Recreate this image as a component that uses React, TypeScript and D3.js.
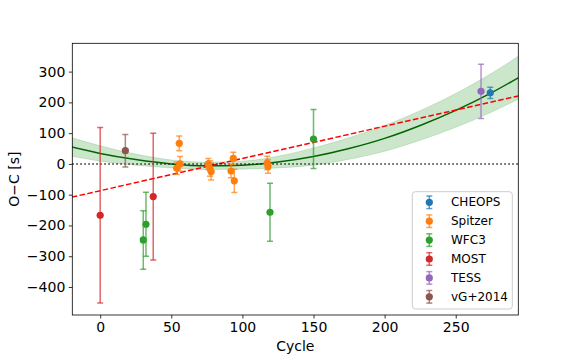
import * as d3 from "d3";
import { useRef, useEffect } from "react";

// transit timing residuals
const cheops = [{ cycle: 274.3, oc: 231, err: 18 }];
const spitzer = [
  { cycle: 55.6, oc: 67, err: 24 },
  { cycle: 53.8, oc: -14, err: 20 },
  { cycle: 56.2, oc: 0, err: 24 },
  { cycle: 76.0, oc: 0, err: 18 },
  { cycle: 77.2, oc: -15, err: 25 },
  { cycle: 78.0, oc: -25, err: 27 },
  { cycle: 93.6, oc: 18, err: 20 },
  { cycle: 92.0, oc: -23, err: 22 },
  { cycle: 94.3, oc: -55, err: 38 },
  { cycle: 117.5, oc: 3, err: 22 },
  { cycle: 118.0, oc: -8, err: 22 },
];
const wfc3 = [
  { cycle: 30.3, oc: -247, err: 95 },
  { cycle: 32.2, oc: -196, err: 104 },
  { cycle: 119.4, oc: -157, err: 94 },
  { cycle: 150.0, oc: 81, err: 96 },
];
const most = [
  { cycle: 0, oc: -167, err: 285 },
  { cycle: 37.3, oc: -106, err: 206 },
];
const tess = [{ cycle: 267.8, oc: 236, err: 88 }];
const vg2014 = [{ cycle: 17.7, oc: 43, err: 53 }];

const seriesNames = ["CHEOPS", "Spitzer", "WFC3", "MOST", "TESS", "vG+2014"];
const seriesColors = ["#1f77b4", "#ff7f0e", "#2ca02c", "#d62728", "#9467bd", "#8c564b"];
const seriesData = [cheops, spitzer, wfc3, most, tess, vg2014];

// quadratic model and its band
const modelCycle = [-20, 0, 25, 50, 75, 100, 125, 150, 175, 200, 225, 250, 275, 294];
const modelOC = [55, 34, 14, 0, -6, -4, 6, 24, 50, 83, 125, 174, 231, 280];
const modelLow = [25, 9, -4, -13, -18, -17, -13, -4, 15, 41, 77, 119, 168, 210];
const modelHigh = [85, 59, 32, 13, 6, 9, 25, 52, 85, 125, 173, 229, 294, 350];

// linear ephemeris
const linearCycle = [-20, 294];
const linearOC = [-108, 221];

const xTicks = [0, 50, 100, 150, 200, 250];
const yTicks = [-400, -300, -200, -100, 0, 100, 200, 300];

const font = "DejaVu Sans, sans-serif";

export default function App() {
  const bottomAxis = useRef<SVGGElement>(null),
    leftAxis = useRef<SVGGElement>(null);

  const width = 576,
    height = 360,
    margin = { left: 72.3, top: 43.3, right: 57.7, bottom: 45 };
  const w = width - margin.left - margin.right,
    h = height - margin.top - margin.bottom;

  const xScale = d3.scaleLinear().domain([-19.6, 294]).range([0, w]);
  const yScale = d3.scaleLinear().domain([-491, 392]).range([h, 0]);

  const modelPts = modelCycle.map((c, i) => ({ c, y: modelOC[i], lo: modelLow[i], hi: modelHigh[i] }));
  const modelLine = d3
    .line<any>()
    .x((d) => xScale(d.c))
    .y((d) => yScale(d.y))
    .curve(d3.curveMonotoneX);
  const band = d3
    .area<any>()
    .x((d) => xScale(d.c))
    .y0((d) => yScale(d.lo))
    .y1((d) => yScale(d.hi))
    .curve(d3.curveMonotoneX);
  const linPts = linearCycle.map((c, i) => ({ c, y: linearOC[i] }));
  const linLine = d3
    .line<any>()
    .x((d) => xScale(d.c))
    .y((d) => yScale(d.y));

  useEffect(() => {
    const xAxis = d3.axisBottom(xScale).tickValues(xTicks).tickSize(3.5).tickPadding(3.5);
    const yAxis = d3.axisLeft(yScale).tickValues(yTicks).tickSize(3.5).tickPadding(3.5);
    const styleAxis = (g: any) => {
      g.select(".domain").remove();
      g.selectAll("text").attr("font-size", 14).attr("font-family", font).attr("fill", "#000");
      g.selectAll("line").attr("stroke", "#000").attr("stroke-width", 0.8);
    };
    d3.select(bottomAxis.current).call(xAxis).call(styleAxis);
    d3.select(leftAxis.current).call(yAxis).call(styleAxis);
  }, []);

  const cap = 3;

  return (
    <svg width={width} height={height} style={{ position: "absolute", left: 0, top: 0, background: "#fff" }}>
      <defs>
        <clipPath id="plot">
          <rect x={0} y={0} width={w} height={h} />
        </clipPath>
      </defs>
      <g transform={`translate(${margin.left}, ${margin.top})`}>
        <g clipPath="url(#plot)">
          <path d={band(modelPts) || ""} fill="green" fillOpacity={0.2} stroke="green" strokeOpacity={0.15} />
          <path d={modelLine(modelPts) || ""} fill="none" stroke="darkgreen" strokeWidth={1.5} />
          <path d={linLine(linPts) || ""} fill="none" stroke="red" strokeWidth={1.5} strokeDasharray="5.55 2.4" />
          <line x1={0} x2={w} y1={yScale(0)} y2={yScale(0)} stroke="#222" strokeWidth={1.5} strokeDasharray="1.5 2.5" />
          {seriesData.map((pts, i) => (
            <g key={i}>
              {pts.map((p, j) => {
                const cx = xScale(p.cycle),
                  yt = yScale(p.oc + p.err),
                  yb = yScale(p.oc - p.err);
                return (
                  <g key={j}>
                    <g stroke={seriesColors[i]} strokeOpacity={0.7} strokeWidth={1.5}>
                      <line x1={cx} x2={cx} y1={yt} y2={yb} />
                      <line x1={cx - cap} x2={cx + cap} y1={yt} y2={yt} />
                      <line x1={cx - cap} x2={cx + cap} y1={yb} y2={yb} />
                    </g>
                    <circle cx={cx} cy={yScale(p.oc)} r={3.6} fill={seriesColors[i]} />
                  </g>
                );
              })}
            </g>
          ))}
        </g>
        <rect x={0} y={0} width={w} height={h} fill="none" stroke="#000" strokeWidth={0.8} />
        <g ref={bottomAxis} transform={`translate(0, ${h})`} />
        <g ref={leftAxis} />

        {/* legend */}
        <g transform={`translate(${w - 106}, ${h - 123.3})`}>
          <rect x={0} y={0} width={100} height={117.3} rx={3} fill="#fff" fillOpacity={0.8} stroke="#ccc" strokeWidth={1} />
          {seriesNames.map((name, i) => {
            const cy = 10.6 + i * 18.9;
            return (
              <g key={name}>
                <g stroke={seriesColors[i]} strokeOpacity={0.7} strokeWidth={1.5}>
                  <line x1={17} x2={17} y1={cy - 6.3} y2={cy + 6.3} />
                  <line x1={17 - cap} x2={17 + cap} y1={cy - 6.3} y2={cy - 6.3} />
                  <line x1={17 - cap} x2={17 + cap} y1={cy + 6.3} y2={cy + 6.3} />
                </g>
                <circle cx={17} cy={cy} r={3.6} fill={seriesColors[i]} />
                <text x={38.7} y={cy} dy="0.35em" fontSize={12} fontFamily={font} fill="#000">
                  {name}
                </text>
              </g>
            );
          })}
        </g>
      </g>
      <text x={margin.left + w / 2} y={351} textAnchor="middle" fontSize={14} fontFamily={font}>
        Cycle
      </text>
      <text
        transform={`translate(19, ${margin.top + h / 2}) rotate(-90)`}
        textAnchor="middle"
        fontSize={14}
        fontFamily={font}
      >
        O−C [s]
      </text>
    </svg>
  );
}
